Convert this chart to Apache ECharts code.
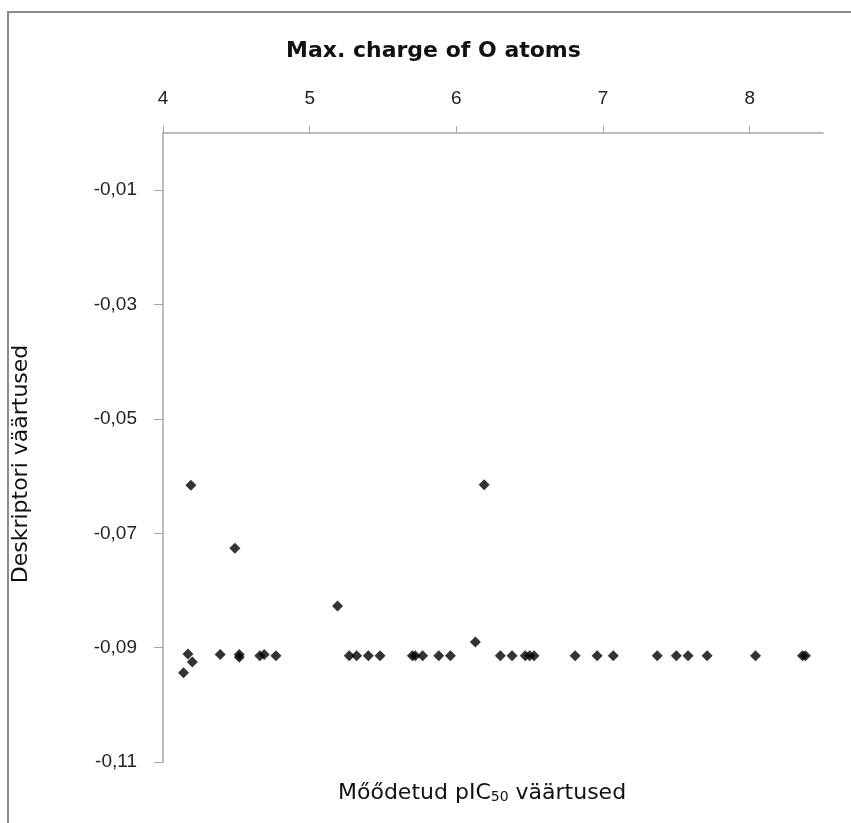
<!DOCTYPE html>
<html>
<head>
<meta charset="utf-8">
<script src="https://cdn.jsdelivr.net/npm/echarts@6/dist/echarts.min.js"></script>
<style>
  html, body { margin: 0; padding: 0; background: #fff; }
  #chart { width: 851px; height: 823px; }
</style>
</head>
<body>
<div id="chart"></div>
<script>
// measured pIC50 (x) and descriptor value (y)
var pic50 = [4.14, 4.17, 4.20, 4.19, 4.39, 4.49, 4.52, 4.52, 4.66, 4.69, 4.77,
             5.19, 5.27, 5.32, 5.40, 5.48, 5.70, 5.72, 5.77, 5.88, 5.96,
             6.13, 6.19, 6.30, 6.38, 6.47, 6.50, 6.53, 6.81, 6.96, 7.07,
             7.37, 7.50, 7.58, 7.71, 8.04, 8.36, 8.38];
var descriptor = [-0.0944, -0.0911, -0.0925, -0.0616, -0.0912, -0.0726, -0.0912, -0.0917, -0.0914, -0.0912, -0.0914,
                  -0.0827, -0.0914, -0.0914, -0.0914, -0.0914, -0.0914, -0.0914, -0.0914, -0.0914, -0.0914,
                  -0.0890, -0.0615, -0.0914, -0.0914, -0.0914, -0.0914, -0.0914, -0.0914, -0.0914, -0.0914,
                  -0.0914, -0.0914, -0.0914, -0.0914, -0.0914, -0.0914, -0.0914];
var xTicks = [4, 5, 6, 7, 8];
var yTicks = [-0.11, -0.09, -0.07, -0.05, -0.03, -0.01];

var points = [];
for (var i = 0; i < pic50.length; i++) {
    points.push([pic50[i], descriptor[i]]);
}

var chart = echarts.init(document.getElementById('chart'));
var font = 'DejaVu Sans, Verdana, sans-serif';
var tickFont = 'Liberation Sans, Arial, sans-serif';
var option = {
    animation: false,
    title: [
        {
            text: 'Max. charge of O atoms',
            left: 281,
            top: 35,
            textStyle: { fontFamily: font, fontSize: 22, fontWeight: 'bold', color: '#111' }
        },
        {
            text: '{a|Mőődetud pIC}{s|50}{a| väärtused}',
            left: 333,
            top: 776,
            textStyle: {
                fontWeight: 'normal',
                rich: {
                    a: { fontFamily: font, fontSize: 22, fontWeight: 'normal', color: '#111', verticalAlign: 'bottom' },
                    s: { fontFamily: font, fontSize: 14, fontWeight: 'normal', color: '#111', padding: [9, 0, 0, 0], verticalAlign: 'bottom' }
                }
            }
        }
    ],
    graphic: [
        {
            type: 'rect',
            shape: { x: 8, y: 12, width: 900, height: 900 },
            style: { fill: 'none', stroke: '#8c8c8c', lineWidth: 2 },
            silent: true
        },
        {
            type: 'text',
            x: 21,
            y: 464,
            rotation: Math.PI / 2,
            style: {
                text: 'Deskriptori väärtused',
                fontFamily: font,
                fontSize: 22,
                fill: '#111',
                align: 'center',
                verticalAlign: 'middle'
            }
        }
    ],
    grid: { left: 163, top: 133, right: 28, bottom: 61 },
    xAxis: {
        type: 'value',
        position: 'top',
        min: 4,
        max: 8.5,
        interval: 1,
        axisLine: { onZero: false, lineStyle: { color: '#a6a6a6', width: 1.5 } },
        axisTick: { show: true, length: 7, customValues: xTicks, lineStyle: { color: '#a6a6a6' } },
        axisLabel: { customValues: xTicks, margin: 25, fontFamily: tickFont, fontSize: 19, color: '#222' },
        splitLine: { show: false }
    },
    yAxis: {
        type: 'value',
        min: -0.11,
        max: 0,
        interval: 0.02,
        axisLine: { show: true, onZero: false, lineStyle: { color: '#a6a6a6', width: 1.5 } },
        axisTick: { show: true, length: 9, customValues: yTicks, lineStyle: { color: '#a6a6a6' } },
        axisLabel: {
            customValues: yTicks,
            margin: 26,
            fontFamily: tickFont,
            fontSize: 19,
            color: '#222',
            formatter: function (v) { return v.toFixed(2).replace('.', ','); }
        },
        splitLine: { show: false }
    },
    series: [
        {
            type: 'scatter',
            symbol: 'diamond',
            symbolSize: 11,
            itemStyle: { color: '#000' },
            data: points
        }
    ]
};
chart.setOption(option);
</script>
</body>
</html>
